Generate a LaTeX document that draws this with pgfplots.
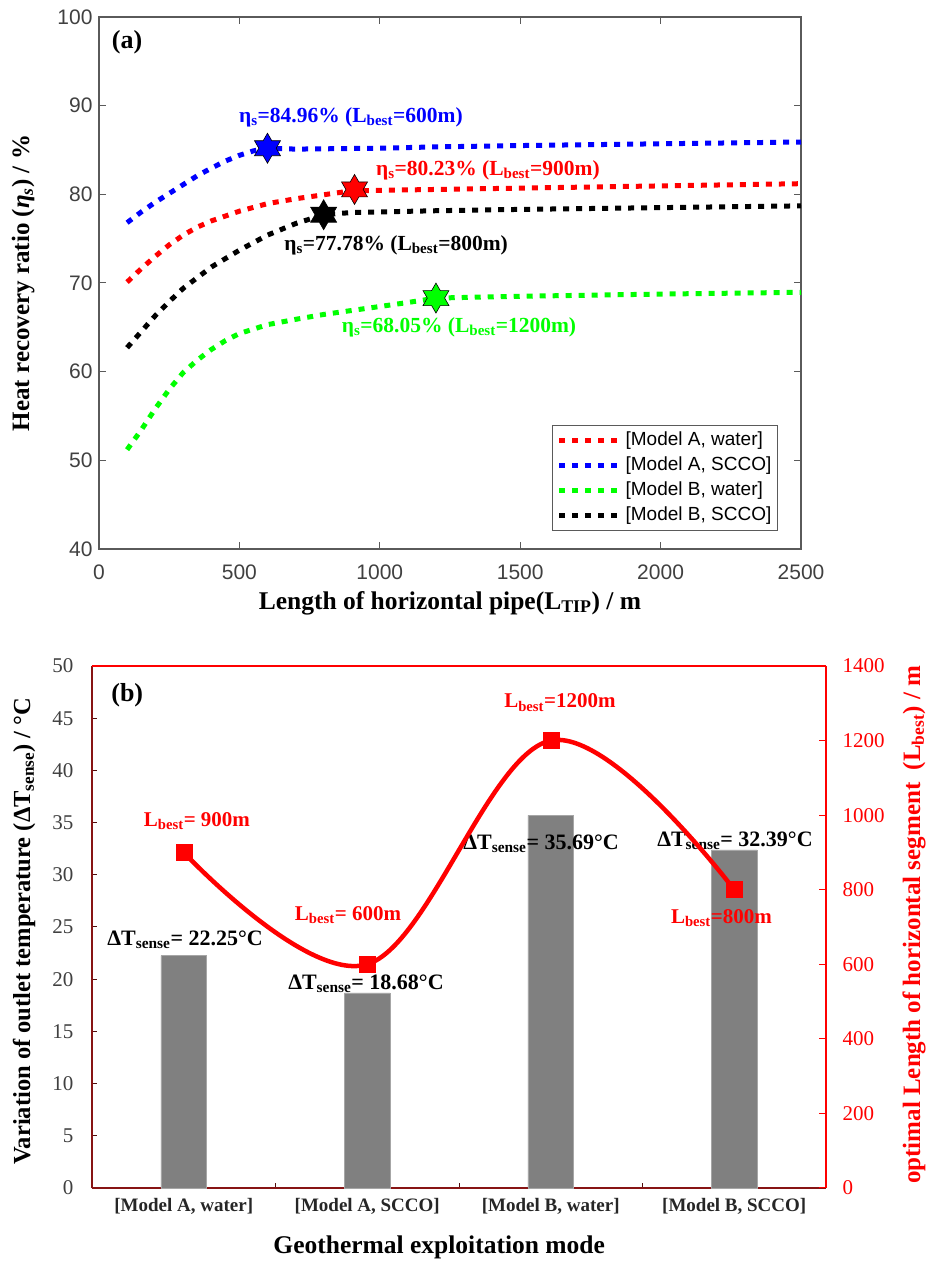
\documentclass[border=0pt]{standalone}
\usepackage{pgfplots}
\pgfplotsset{compat=1.18}
\usepackage{fontspec}
\setmainfont{Liberation Serif}
\newfontfamily\helv{Liberation Sans}
\newcommand\fsz[1]{\fontsize{#1}{#1}\selectfont}
\definecolor{mred}{RGB}{255,0,0}
\definecolor{mblue}{RGB}{0,0,255}
\definecolor{mgreen}{RGB}{0,255,0}
\definecolor{axgray}{RGB}{90,90,90}
\definecolor{tickgray}{RGB}{64,64,64}
\definecolor{maroon}{RGB}{135,20,20}
\definecolor{bargray}{RGB}{128,128,128}
\pgfdeclareplotmark{hexstar}{%
 \pgfpathmoveto{\pgfpointpolar{90}{\pgfplotmarksize}}%
 \pgfpathlineto{\pgfpointpolar{120}{0.577\pgfplotmarksize}}%
 \pgfpathlineto{\pgfpointpolar{150}{\pgfplotmarksize}}%
 \pgfpathlineto{\pgfpointpolar{180}{0.577\pgfplotmarksize}}%
 \pgfpathlineto{\pgfpointpolar{210}{\pgfplotmarksize}}%
 \pgfpathlineto{\pgfpointpolar{240}{0.577\pgfplotmarksize}}%
 \pgfpathlineto{\pgfpointpolar{270}{\pgfplotmarksize}}%
 \pgfpathlineto{\pgfpointpolar{300}{0.577\pgfplotmarksize}}%
 \pgfpathlineto{\pgfpointpolar{330}{\pgfplotmarksize}}%
 \pgfpathlineto{\pgfpointpolar{0}{0.577\pgfplotmarksize}}%
 \pgfpathlineto{\pgfpointpolar{30}{\pgfplotmarksize}}%
 \pgfpathlineto{\pgfpointpolar{60}{0.577\pgfplotmarksize}}%
 \pgfpathclose
 \pgfusepathqfillstroke
}
\begin{document}
\begin{tikzpicture}
\useasboundingbox (0,0) rectangle (928pt,1261pt);
% ---------------- panel (a)
\begin{axis}[
 at={(99pt,712pt)}, anchor=south west, scale only axis, width=702pt, height=532pt,
 xmin=0, xmax=2500, ymin=40, ymax=100,
 xtick={0,500,...,2500}, ytick={40,50,...,100},
 tick align=inside, major tick length=7pt,
 axis line style={axgray, line width=1.3pt}, tick style={axgray, line width=1pt},
 tick label style={font=\helv\fsz{21}, text=tickgray},
 /pgf/number format/assume math mode=true, /pgf/number format/1000 sep={},
 xticklabel style={yshift=-12pt}, yticklabel style={xshift=-3pt},
 xlabel={Length of horizontal pipe(L\textsubscript{TIP}) / m},
 ylabel={Heat recovery ratio (\textit{η}\textsubscript{\textit{s}}) / \%},
 xlabel style={at={(axis description cs:0.5,-0.1015)}, anchor=center, font=\bfseries\fsz{25.5}},
 ylabel style={at={(axis description cs:-0.108,0.5)}, anchor=center, font=\bfseries\fsz{25}},
 legend style={at={(0.967,0.034)}, anchor=south east, draw=axgray, line width=1pt,
   font=\helv\fsz{19}, row sep=3pt, inner sep=4pt,
   nodes={inner sep=2pt, text height=14pt, text depth=4pt}},
 legend cell align=left,
 legend image code/.code={\draw[#1] (0pt,0pt) -- (62pt,0pt);},
 every axis plot/.append style={line width=5pt, dash pattern=on 6pt off 7pt},
]
\addplot[mred] coordinates {(100,70.1)(150,71.6)(200,73.0)(250,74.3)(300,75.4)(350,76.3)(400,77.0)(500,78.1)(600,78.95)(700,79.5)(800,79.95)(900,80.4)(1000,80.45)(1200,80.55)(1500,80.7)(2000,80.95)(2500,81.2)};
\addlegendentry{[Model A, water]}
\addplot[mblue] coordinates {(100,76.8)(150,78.0)(200,79.1)(250,80.1)(300,81.1)(350,82.1)(400,82.95)(450,83.75)(500,84.4)(550,84.9)(600,85.2)(700,85.1)(1000,85.2)(1200,85.35)(1500,85.5)(2000,85.7)(2500,85.9)};
\addlegendentry{[Model A, SCCO]}
\addplot[mgreen] coordinates {(100,51.2)(150,53.4)(200,55.8)(250,58.0)(300,59.9)(350,61.3)(400,62.5)(450,63.5)(500,64.3)(600,65.3)(700,65.9)(800,66.45)(900,66.9)(1000,67.35)(1100,67.8)(1200,68.3)(1500,68.5)(2000,68.75)(2500,68.95)};
\addlegendentry{[Model B, water]}
\addplot[black] coordinates {(100,62.7)(150,64.5)(200,66.3)(250,67.9)(300,69.4)(350,70.6)(400,71.8)(500,73.7)(600,75.4)(700,76.7)(800,77.7)(900,77.95)(1200,78.15)(1500,78.3)(2000,78.5)(2500,78.7)};
\addlegendentry{[Model B, SCCO]}
\addplot[forget plot, only marks, solid, line width=0.6pt, mark=hexstar, mark size=15pt, mark options={draw=black, fill=mblue}] coordinates {(600,85.2)};
\addplot[forget plot, only marks, solid, line width=0.6pt, mark=hexstar, mark size=15pt, mark options={draw=black, fill=mred}] coordinates {(910,80.55)};
\addplot[forget plot, only marks, solid, line width=0.6pt, mark=hexstar, mark size=15pt, mark options={draw=black, fill=black}] coordinates {(800,77.7)};
\addplot[forget plot, only marks, solid, line width=0.6pt, mark=hexstar, mark size=15pt, mark options={draw=black, fill=mgreen}] coordinates {(1200,68.3)};
\node[font=\bfseries\fsz{26}] at (axis description cs:0.04,0.953) {(a)};
\node[mblue, font=\bfseries\fsz{21.5}] at (axis cs:897,88.7) {η\textsubscript{s}=84.96\% (L\textsubscript{best}=600m)};
\node[mred, font=\bfseries\fsz{21.5}] at (axis cs:1385,82.75) {η\textsubscript{s}=80.23\% (L\textsubscript{best}=900m)};
\node[black, font=\bfseries\fsz{21.5}] at (axis cs:1058,74.3) {η\textsubscript{s}=77.78\% (L\textsubscript{best}=800m)};
\node[mgreen, font=\bfseries\fsz{21.5}] at (axis cs:1282,65.0) {η\textsubscript{s}=68.05\% (L\textsubscript{best}=1200m)};
\end{axis}
% ---------------- panel (b) left axis
\begin{axis}[
 at={(92pt,73pt)}, anchor=south west, scale only axis, width=734pt, height=522pt,
 xmin=-0.5, xmax=3.5, ymin=0, ymax=50,
 axis x line*=bottom, axis y line*=left,
 axis line style={maroon, line width=2.5pt, -},
 xtick={0.5,1.5,2.5}, xticklabels={},
 extra x ticks={0,1,2,3},
 extra x tick labels={{[Model A, water]},{[Model A, SCCO]},{[Model B, water]},{[Model B, SCCO]}},
 extra x tick style={tick style={draw=none}, tick label style={font=\bfseries\fsz{19}, text=black!85, yshift=-7pt}},
 ytick={0,5,...,50}, tick align=inside, major tick length=5pt,
 tick style={maroon!60!black, line width=1pt},
 yticklabel style={font=\fsz{21}, text=tickgray, xshift=-15pt},
 /pgf/number format/assume math mode=true,
 xlabel={Geothermal exploitation mode},
 ylabel={Variation of outlet temperature (ΔT\textsubscript{sense}) / °C},
 xlabel style={at={(axis description cs:0.473,-0.113)}, anchor=center, font=\bfseries\fsz{25.5}},
 ylabel style={at={(axis description cs:-0.0926,0.492)}, anchor=center, font=\bfseries\fsz{24.5}},
]
\addplot[ybar, bar width=0.25, fill=bargray, draw=bargray!70!white, line width=0.5pt] coordinates {(0,22.25)(1,18.68)(2,35.69)(3,32.39)};
\node[font=\bfseries\fsz{26}] at (axis description cs:0.048,0.944) {(b)};
\node[black, font=\bfseries\fsz{22}] at (axis cs:0.007,23.75) {ΔT\textsubscript{sense}= 22.25°C};
\node[black, font=\bfseries\fsz{22}] at (axis cs:0.993,19.6) {ΔT\textsubscript{sense}= 18.68°C};
\node[black, font=\bfseries\fsz{22}] at (axis cs:1.947,33.0) {ΔT\textsubscript{sense}= 35.69°C};
\node[black, font=\bfseries\fsz{22}] at (axis cs:3.004,33.3) {ΔT\textsubscript{sense}= 32.39°C};
\end{axis}
% ---------------- panel (b) right axis
\begin{axis}[
 at={(92pt,73pt)}, anchor=south west, scale only axis, width=734pt, height=522pt,
 xmin=-0.5, xmax=3.5, ymin=0, ymax=1400,
 axis x line*=top, axis y line*=right,
 axis line style={mred, line width=2.5pt, -},
 xtick=\empty,
 ytick={0,200,...,1400}, tick align=inside, major tick length=7pt,
 tick style={mred, line width=1pt},
 yticklabel style={font=\fsz{21}, text=mred, xshift=13pt},
 /pgf/number format/assume math mode=true, /pgf/number format/1000 sep={},
 ylabel={optimal Length of horizontal segment\ \ (L\textsubscript{best}) / m},
 ylabel style={at={(axis description cs:1.12,0.504)}, anchor=center, font=\bfseries\fsz{25}, text=mred},
]
\addplot[mred, line width=4.5pt, smooth, tension=0.6, mark=square*, mark size=8pt, mark options={solid, line width=0.5pt}] coordinates {(0,900)(1,600)(2,1200)(3,800)};
\node[mred, font=\bfseries\fsz{21}] at (axis cs:0.072,985) {L\textsubscript{best}= 900m};
\node[mred, font=\bfseries\fsz{21}] at (axis cs:0.895,731) {L\textsubscript{best}= 600m};
\node[mred, font=\bfseries\fsz{21}] at (axis cs:2.05,1302) {L\textsubscript{best}=1200m};
\node[mred, font=\bfseries\fsz{21}] at (axis cs:2.93,725) {L\textsubscript{best}=800m};
\end{axis}
\end{tikzpicture}
\end{document}
